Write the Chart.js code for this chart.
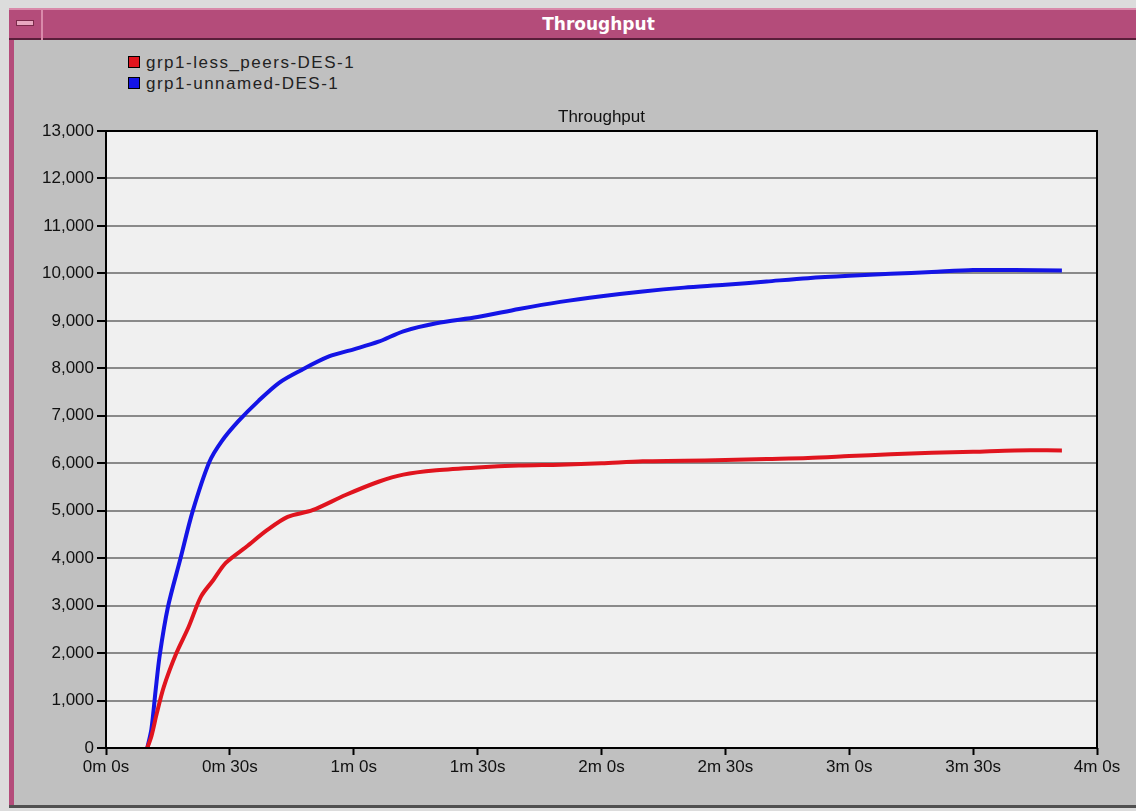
<!DOCTYPE html>
<html>
<head>
<meta charset="utf-8">
<script src="https://cdn.jsdelivr.net/npm/chart.js@4.4.1/dist/chart.umd.min.js"></script>
<style>
    html, body { margin: 0; padding: 0; }
    body { width: 1136px; height: 811px; background: #dcdcdc; position: relative; overflow: hidden; font-family: "Liberation Sans", Arial, sans-serif; }
    #frame { position: absolute; left: 9px; top: 8px; width: 1127px; height: 800px; background: #c0c0c0; border-left: 5px solid #b44c7a; box-sizing: border-box; }
    #titlebar { position: absolute; left: 9px; top: 8px; width: 1127px; height: 32px; background: #b44c7a; border-top: 2px solid #d98aaa; border-bottom: 2px solid #5a1e3a; box-sizing: border-box; color: #fff; font: bold 17px "DejaVu Sans", sans-serif; text-align: center; line-height: 28px; }
    #titlebar span { position: relative; left: 26px; }
    #menubox { position: absolute; left: 9px; top: 8px; width: 34px; height: 32px; border-right: 2px solid #d98aaa; box-sizing: border-box; }
    #menubox div { position: absolute; left: 7px; top: 12px; width: 16px; height: 4px; background: #e8a8c0; border: 1px solid #7a2a4a; }
    #bottomline { position: absolute; left: 9px; top: 805px; width: 1127px; height: 3px; background: #505050; }
    #chartWrap { position: absolute; left: 0; top: 0; width: 1136px; height: 811px; }
    #legend { position: absolute; left: 128px; top: 53px; font-size: 17px; letter-spacing: 1.5px; color: #222; }
    #legend .item { height: 21px; line-height: 20px; white-space: nowrap; }
    #legend .box { display: inline-block; width: 10px; height: 10px; border: 1px solid #000; margin-right: 6px; vertical-align: 0px; }
</style>
</head>
<body>
<div id="frame"></div>
<div id="titlebar"><span>Throughput</span></div>
<div id="menubox"><div></div></div>
<div id="bottomline"></div>
<div id="legend"></div>
<div id="chartWrap"><canvas id="chart-line" width="1136" height="811"></canvas></div>
<script>
// series names
var seriesNames = ['grp1-less_peers-DES-1', 'grp1-unnamed-DES-1'];

// x tick positions in seconds (0m 0s .. 4m 0s)
var tickSeconds = [0, 30, 60, 90, 120, 150, 180, 210, 240];

// red series: grp1-less_peers-DES-1
var redTimes = [10, 11, 12.3, 14, 17, 20, 23, 26, 29, 34, 39, 44, 50, 58, 66, 72, 80, 90, 100, 110, 120, 130, 140, 150, 160, 170, 180, 190, 200, 210, 220, 231.5];
var redValues = [0, 250, 730, 1290, 1990, 2550, 3190, 3540, 3900, 4240, 4590, 4870, 5010, 5330, 5610, 5760, 5850, 5910, 5950, 5970, 6000, 6040, 6050, 6070, 6090, 6110, 6150, 6190, 6220, 6240, 6270, 6270];

// blue series: grp1-unnamed-DES-1
var blueTimes = [10, 11, 12, 13, 15, 18, 21, 25, 28, 32, 37, 42, 47, 54, 60, 66, 72, 80, 90, 100, 110, 120, 130, 140, 150, 160, 170, 180, 190, 200, 210, 220, 231.5];
var blueValues = [0, 400, 1200, 1950, 2970, 3980, 4990, 6020, 6460, 6880, 7320, 7700, 7950, 8250, 8400, 8560, 8780, 8950, 9080, 9250, 9400, 9520, 9620, 9700, 9760, 9830, 9900, 9950, 9990, 10030, 10070, 10070, 10060];

var colors = ['#e0141e', '#1414e6'];

function toPoints(times, values) {
    var pts = [];
    for (var i = 0; i < times.length; i++) {
        pts.push({ x: times[i], y: values[i] });
    }
    return pts;
}

function fmtTime(sec) {
    var m = Math.floor(sec / 60);
    var s = sec % 60;
    return m + 'm ' + s + 's';
}

// legend as plain html
var legendHtml = '';
for (var i = 0; i < seriesNames.length; i++) {
    legendHtml += '<div class="item"><span class="box" style="background:' + colors[i] + '"></span>' + seriesNames[i] + '</div>';
}
document.getElementById('legend').innerHTML = legendHtml;

// plot background + frame
var plotBg = {
    id: 'plotBg',
    beforeDraw: function (chart) {
        var a = chart.chartArea, ctx = chart.ctx;
        ctx.save();
        ctx.fillStyle = '#f0f0f0';
        ctx.fillRect(a.left, a.top, a.right - a.left, a.bottom - a.top);
        ctx.restore();
    },
    afterDatasetsDraw: function (chart) {
        var a = chart.chartArea, ctx = chart.ctx;
        ctx.save();
        ctx.strokeStyle = '#000';
        ctx.lineWidth = 2;
        ctx.strokeRect(a.left, a.top, a.right - a.left, a.bottom - a.top);
        ctx.restore();
    }
};

var tickFont = { family: 'Liberation Sans', size: 17 };

var line_config = {
    type: 'line',
    data: {
        datasets: [{
            label: seriesNames[0],
            data: toPoints(redTimes, redValues),
            borderColor: colors[0],
            borderWidth: 4,
            pointRadius: 0,
            tension: 0.3,
            fill: false
        }, {
            label: seriesNames[1],
            data: toPoints(blueTimes, blueValues),
            borderColor: colors[1],
            borderWidth: 4,
            pointRadius: 0,
            tension: 0.3,
            fill: false
        }]
    },
    options: {
        responsive: false,
        animation: false,
        layout: { padding: { top: 107.6, left: 36, right: 39, bottom: 23 } },
        plugins: {
            legend: { display: false },
            tooltip: { enabled: false },
            title: {
                display: true,
                text: 'Throughput',
                fullSize: false,
                color: '#111',
                font: { family: 'Liberation Sans', size: 17, weight: 'normal' },
                padding: { top: 0, bottom: 3 }
            }
        },
        scales: {
            x: {
                type: 'linear',
                min: 0,
                max: 240,
                afterBuildTicks: function (scale) {
                    scale.ticks = tickSeconds.map(function (v) { return { value: v }; });
                },
                afterFit: function (scale) { scale.height = 40; },
                grid: { drawOnChartArea: false, drawTicks: true, tickLength: 7, tickColor: '#000', tickWidth: 2 },
                border: { display: false },
                ticks: {
                    color: '#111',
                    font: tickFont,
                    maxRotation: 0,
                    padding: 2,
                    callback: function (v) { return fmtTime(v); }
                }
            },
            y: {
                min: 0,
                max: 13000,
                afterFit: function (scale) { scale.width = 70; },
                grid: { color: '#8a8a8a', lineWidth: 2, drawTicks: true, tickLength: 9, tickColor: '#000' },
                border: { display: false },
                ticks: {
                    stepSize: 1000,
                    color: '#111',
                    padding: 3,
                    font: tickFont
                }
            }
        }
    },
    plugins: [plotBg]
};

var lineChart = document.getElementById('chart-line').getContext('2d');
window.myLine = new Chart(lineChart, line_config);
</script>
</body>
</html>
